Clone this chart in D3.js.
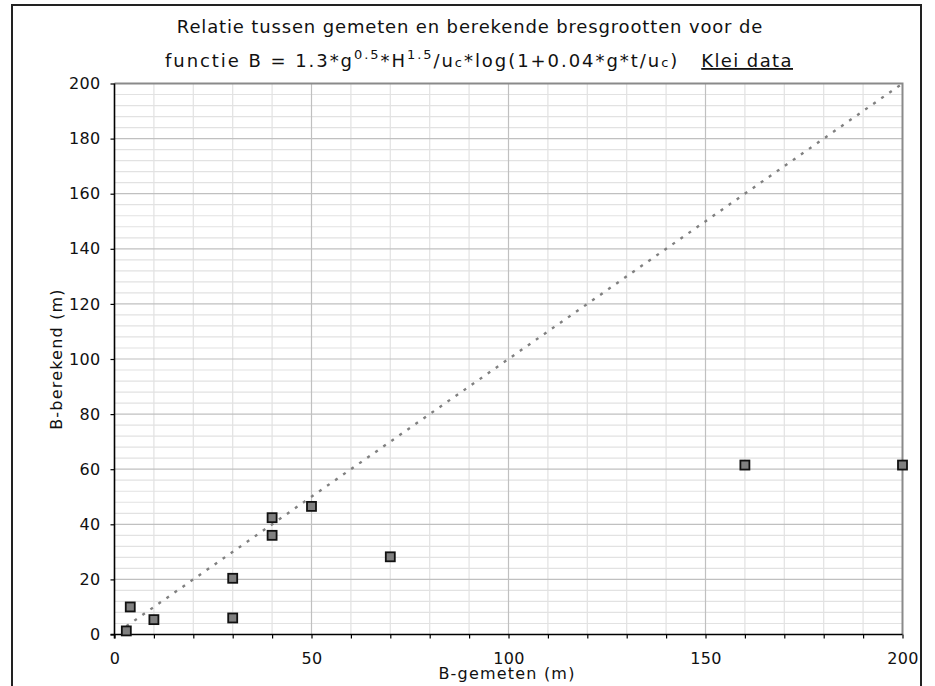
<!DOCTYPE html>
<html>
<head>
<meta charset="utf-8">
<script src="https://cdn.jsdelivr.net/npm/d3@7"></script>
<style>
  html, body { margin: 0; padding: 0; background: #fff; }
  svg { display: block; }
</style>
</head>
<body>
<svg id="chart" width="935" height="686"></svg>
<script>
// Measured breach width (x) against computed breach width (y), clay dikes
const gemeten  = [3, 4, 10, 30, 30, 40, 40, 50, 70, 160, 200];
const berekend = [1.3, 10, 5.4, 20.4, 6.0, 42.4, 36.0, 46.5, 28.2, 61.5, 61.5];

// 1:1 reference line
const lijnX = [3, 200];
const lijnY = [3, 200];

const xTicks = [0, 50, 100, 150, 200];
const yTicks = [0, 20, 40, 60, 80, 100, 120, 140, 160, 180, 200];

const svg = d3.select("#chart");
const font = "'DejaVu Sans', Verdana, sans-serif";

const x = d3.scaleLinear().domain([0, 200]).range([114.5, 902.5]);
const y = d3.scaleLinear().domain([0, 200]).range([634.5, 83.5]);

// outer frame
svg.append("rect")
  .attr("x", 12).attr("y", 5).attr("width", 909).attr("height", 700)
  .attr("fill", "none").attr("stroke", "#222").attr("stroke-width", 2);

// gridlines
const g = svg.append("g");
const xMinor = d3.range(10, 201, 10).filter(v => v % 50 !== 0);
const xMajor = [50, 100, 150];
const yMinor = d3.range(4, 201, 4).filter(v => v % 20 !== 0);
const yMajor = d3.range(20, 200, 20);

g.selectAll("line.xmin").data(xMinor).join("line")
  .attr("x1", d => x(d)).attr("x2", d => x(d))
  .attr("y1", y(0)).attr("y2", y(200))
  .attr("stroke", "#e2e2e2").attr("stroke-width", 1.2);
g.selectAll("line.ymin").data(yMinor).join("line")
  .attr("y1", d => y(d)).attr("y2", d => y(d))
  .attr("x1", x(0)).attr("x2", x(200))
  .attr("stroke", "#e2e2e2").attr("stroke-width", 1.2);
g.selectAll("line.xmaj").data(xMajor).join("line")
  .attr("x1", d => x(d)).attr("x2", d => x(d))
  .attr("y1", y(0)).attr("y2", y(200))
  .attr("stroke", "#c0c0c0").attr("stroke-width", 1.2);
g.selectAll("line.ymaj").data(yMajor).join("line")
  .attr("y1", d => y(d)).attr("y2", d => y(d))
  .attr("x1", x(0)).attr("x2", x(200))
  .attr("stroke", "#c0c0c0").attr("stroke-width", 1.2);

// plot area top and right border
svg.append("path")
  .attr("d", `M${x(0)},${y(200)}H${x(200)}V${y(0)}`)
  .attr("fill", "none").attr("stroke", "#8a8a8a").attr("stroke-width", 2);

// 1:1 dotted line
svg.append("path")
  .datum(d3.zip(lijnX, lijnY))
  .attr("d", d3.line().x(d => x(d[0])).y(d => y(d[1])))
  .attr("fill", "none").attr("stroke", "#808080")
  .attr("stroke-width", 2.4).attr("stroke-dasharray", "3,6.8");

// axes
const xAxis = d3.axisBottom(x).tickValues(d3.range(0, 201, 10))
  .tickFormat(d => xTicks.includes(d) ? d : "").tickSize(4).tickSizeOuter(0).tickPadding(14);
const yAxis = d3.axisLeft(y).tickValues(yTicks)
  .tickSize(4).tickSizeOuter(0).tickPadding(10);

const gx = svg.append("g").attr("transform", `translate(0,${y(0)})`).call(xAxis);
const gy = svg.append("g").attr("transform", `translate(${x(0)},0)`).call(yAxis);
[gx, gy].forEach(a => {
  a.select(".domain").attr("stroke", "#000").attr("stroke-width", 1.6);
  a.selectAll(".tick line").attr("stroke", "#000").attr("stroke-width", 1.2);
  a.selectAll(".tick text").attr("fill", "#111")
    .style("font-family", font).style("font-size", "16px").style("letter-spacing", "0.3px");
});
// axis lines run slightly past the origin
gx.select(".domain").attr("d", `M${x(0) - 4},0H${x(200)}`);
gy.select(".domain").attr("d", `M0,${y(200)}V${y(0) + 4}`);

// data points
svg.append("g").selectAll("rect").data(d3.zip(gemeten, berekend)).join("rect")
  .attr("x", d => x(d[0]) - 4.5).attr("y", d => y(d[1]) - 4.5)
  .attr("width", 9).attr("height", 9)
  .attr("fill", "#808080").attr("stroke", "#111").attr("stroke-width", 1.8);

// axis titles
svg.append("text")
  .attr("x", 507).attr("y", 679).attr("text-anchor", "middle")
  .style("font-family", font).style("font-size", "16px").style("letter-spacing", "1.2px")
  .attr("fill", "#111").text("B-gemeten (m)");
svg.append("text")
  .attr("transform", "translate(62,359) rotate(-90)").attr("text-anchor", "middle")
  .style("font-family", font).style("font-size", "16px").style("letter-spacing", "1.2px")
  .attr("fill", "#111").text("B-berekend (m)");

// chart title
const title = svg.append("g")
  .style("font-family", font).style("font-size", "18px").attr("fill", "#111");
title.append("text").attr("x", 470).attr("y", 33).attr("text-anchor", "middle")
  .style("letter-spacing", "0.85px")
  .text("Relatie tussen gemeten en berekende bresgrootten voor de");

const t2 = title.append("text").attr("x", 479).attr("y", 67).attr("text-anchor", "middle")
  .style("letter-spacing", "1.95px");
const parts = [
  ["functie B = 1.3*g", "n"], ["0.5", "sup"], ["*H", "n"], ["1.5", "sup"],
  ["/u", "n"], ["c", "sub"], ["*log(1+0.04*g*t/u", "n"], ["c", "sub"], [")", "n"]
];
let shift = 0;
parts.forEach(([txt, kind]) => {
  const target = kind === "sup" ? -8 : 0;
  const ts = t2.append("tspan").attr("dy", target - shift).text(txt);
  if (kind !== "n") ts.style("font-size", "13px");
  shift = target;
});
t2.append("tspan").attr("dx", 22).style("text-decoration", "underline")
  .style("letter-spacing", "1.4px").text("Klei data");
</script>
</body>
</html>
